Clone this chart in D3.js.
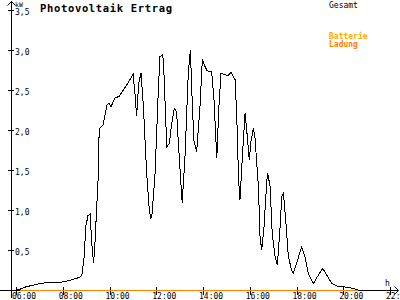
<!DOCTYPE html>
<html><head><meta charset="utf-8">
<script src="https://cdn.jsdelivr.net/npm/d3@7"></script>
<style>
html,body{margin:0;padding:0;background:#fff;}
svg{display:block;}
text{font-family:"DejaVu Sans Mono","Liberation Mono",monospace;}
</style></head>
<body><svg id="c" width="400" height="300"></svg>
<script>
// ---- data ----
const hours = [6.00,6.17,6.43,7.03,7.45,7.97,8.31,8.74,8.82,8.91,8.99,9.08,9.17,9.25,9.32,9.38,9.44,9.51,9.55,9.59,9.72,9.89,9.98,10.06,10.24,10.41,10.71,10.96,11.01,11.09,11.16,11.22,11.26,11.35,11.45,11.59,11.69,11.76,11.82,11.95,12.09,12.16,12.28,12.33,12.45,12.56,12.66,12.77,12.87,12.94,13.04,13.11,13.23,13.37,13.46,13.52,13.61,13.73,13.87,13.97,14.09,14.18,14.37,14.47,14.59,14.68,14.77,14.94,15.07,15.20,15.37,15.44,15.52,15.58,15.70,15.80,15.87,15.93,15.98,16.05,16.15,16.22,16.37,16.44,16.51,16.61,16.73,16.77,16.87,16.96,17.08,17.18,17.29,17.37,17.44,17.54,17.65,17.79,17.86,18.01,18.22,18.36,18.50,18.72,18.86,19.12,19.29,19.51,19.72,20.00,20.43,20.64];
const gesamt = [0,0.01,0.04,0.08,0.10,0.10,0.12,0.16,0.19,0.40,0.80,0.93,0.95,0.55,0.34,0.60,0.96,1.37,1.90,2.02,2.06,2.31,2.34,2.29,2.40,2.42,2.55,2.67,2.70,2.45,2.18,2.45,2.60,2.71,2.29,1.46,1.05,0.89,0.95,1.46,2.50,2.92,2.94,2.71,1.79,1.83,2.08,2.27,2.23,1.87,1.40,1.09,1.67,2.71,3.00,2.50,1.87,1.73,2.29,2.88,2.79,2.74,2.73,2.38,1.65,2.29,2.71,2.69,2.68,2.72,2.63,2.21,1.40,1.12,1.75,2.21,2.00,1.80,1.62,1.85,2.02,1.92,1.29,0.67,0.50,0.79,1.37,1.46,1.29,0.71,0.42,0.31,0.75,1.17,1.21,0.87,0.42,0.25,0.21,0.34,0.54,0.42,0.21,0.08,0.15,0.27,0.19,0.08,0.05,0.04,0.02,0];
const ladungHours = [6.17, 20.64];
const ladung = [0, 0];
const xTicks = [6,8,10,12,14,16,18,20,22];
const xTickLabels = ["06:00","08:00","10:00","12:00","14:00","16:00","18:00","20:00","22:00"];
const yTicks = [0.5,1.0,1.5,2.0,2.5,3.0,3.5];
const yTickLabels = ["0,5","1,0","1,5","2,0","2,5","3,0","3,5"];
const title = "Photovoltaik Ertrag";
const legendLabels = ["Gesamt","Batterie","Ladung"];
const legendColors = ["#000000","#ffaa00","#ff8000"];

// ---- chart ----
const svg = d3.select("#c");
const x = d3.scaleLinear().domain([6,22]).range([16,390]);
const y = d3.scaleLinear().domain([0,3.5]).range([290,10]);
const X0 = 11.5, Y0 = 290.5;

// axes lines with arrows
svg.append("line").attr("x1",0).attr("x2",398).attr("y1",Y0).attr("y2",Y0).attr("stroke","#000").attr("shape-rendering","crispEdges");
svg.append("path").attr("d",`M394.5,286.5 L398.5,${Y0} L394.5,294.5`).attr("fill","none").attr("stroke","#000").attr("stroke-width",1);
svg.append("line").attr("x1",X0).attr("x2",X0).attr("y1",1).attr("y2",298).attr("stroke","#000").attr("shape-rendering","crispEdges");
svg.append("path").attr("d",`M7.5,5.5 L${X0},1.5 L15.5,5.5`).attr("fill","none").attr("stroke","#000").attr("stroke-width",1);

// x axis
const xAxis = d3.axisBottom(x).tickValues(xTicks).tickSize(0).tickFormat((d,i)=>xTickLabels[i]);
const gx = svg.append("g").attr("transform",`translate(0,${Y0-0.5})`).call(xAxis);
gx.select(".domain").remove();
gx.selectAll(".tick line").attr("y1",-3).attr("y2",5).attr("stroke","#000").attr("shape-rendering","crispEdges");
gx.selectAll(".tick text").attr("y",9).attr("dy",0).attr("x",-4.5).attr("text-anchor","start")
  .attr("font-size","8px").attr("font-family","DejaVu Sans Mono").attr("fill","#000");

// y axis
const yAxis = d3.axisRight(y).tickValues(yTicks).tickSize(0).tickFormat((d,i)=>yTickLabels[i]);
const gy = svg.append("g").attr("transform",`translate(${X0-0.5},0)`).call(yAxis);
gy.select(".domain").remove();
gy.selectAll(".tick line").attr("x1",-3).attr("x2",3).attr("stroke","#000").attr("shape-rendering","crispEdges");
gy.selectAll(".tick text").attr("x",4).attr("dy","0.5em").attr("text-anchor","start")
  .attr("font-size","8px").attr("font-family","DejaVu Sans Mono").attr("fill","#000");

// unit labels
svg.append("text").attr("x",15).attr("y",7).attr("font-size","6.5px").text("kW");
svg.append("text").attr("x",385).attr("y",286).attr("font-size","8px").text("h");

// title
svg.append("text").attr("x",40).attr("y",11.5).attr("font-size","10.5px").attr("font-weight","bold")
  .attr("textLength",132).attr("lengthAdjust","spacing").text(title);

// legend
const legY = [8,39,47];
legendLabels.forEach((t,i)=>{
  svg.append("text").attr("x",329).attr("y",legY[i]).attr("font-size","8px")
    .attr("font-weight", i>0 ? "bold" : "normal").attr("fill",legendColors[i]).text(t);
});

// series
const line = d3.line().x(d=>x(d[0])).y(d=>y(d[1]));
svg.append("path").datum(hours.map((h,i)=>[h,gesamt[i]]))
  .attr("d",line).attr("fill","none").attr("stroke","#000").attr("stroke-width",1)
  .attr("shape-rendering","crispEdges");
svg.append("path").datum(ladungHours.map((h,i)=>[h,ladung[i]]))
  .attr("d",line).attr("transform","translate(0,0.5)").attr("fill","none").attr("stroke",legendColors[2]).attr("stroke-width",1.2);
</script></body></html>
